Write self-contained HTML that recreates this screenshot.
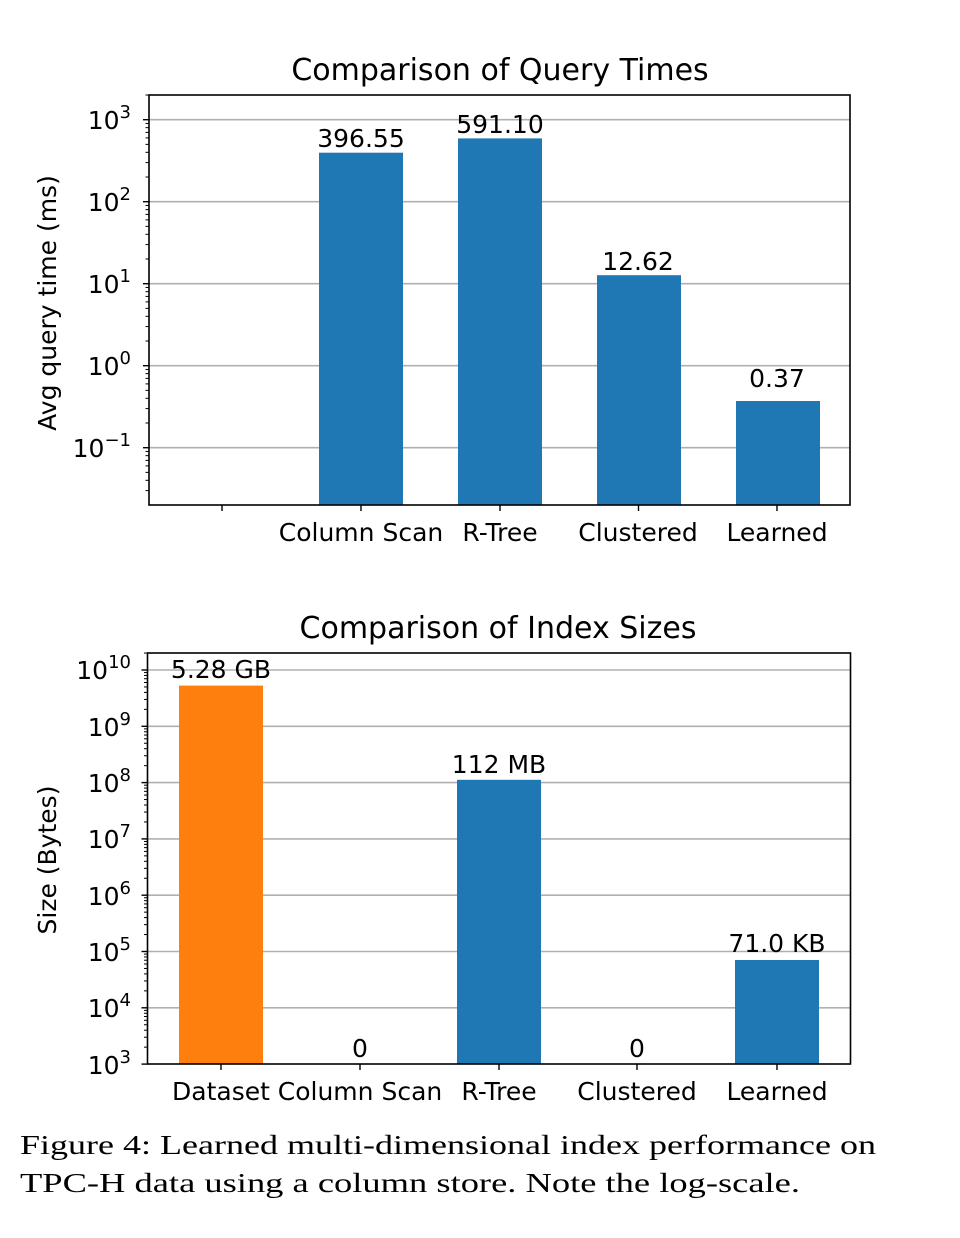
<!DOCTYPE html>
<html><head><meta charset="utf-8"><style>
html,body{margin:0;padding:0;background:#fff;}
svg{display:block;}
text{font-family:"DejaVu Sans","Liberation Sans",sans-serif;fill:#000;}
.cap{font-family:"Liberation Serif",serif;font-size:27px;}
</style></head><body>
<svg id="s" width="960" height="1238" viewBox="0 0 960 1238" xmlns="http://www.w3.org/2000/svg">
<g id="grid"></g>
<rect x="319" y="152.7" width="84" height="352.3" fill="#1f77b4"/>
<rect x="458" y="138.4" width="84" height="366.6" fill="#1f77b4"/>
<rect x="597" y="275.2" width="84" height="229.8" fill="#1f77b4"/>
<rect x="736" y="401" width="84" height="104" fill="#1f77b4"/>
<rect x="179" y="685.6" width="84" height="378.4" fill="#ff7f0e"/>
<rect x="457" y="779.8" width="84" height="284.2" fill="#1f77b4"/>
<rect x="735" y="960" width="84" height="104" fill="#1f77b4"/>
<g id="ticks"></g>
<rect x="149" y="95" width="701" height="410" fill="none" stroke="#000" stroke-width="1.6"/>
<rect x="147.5" y="653" width="703" height="411" fill="none" stroke="#000" stroke-width="1.6"/>

<text x="500" y="80" font-size="30" text-anchor="middle">Comparison of Query Times</text>
<text x="498" y="638" font-size="30" text-anchor="middle">Comparison of Index Sizes</text>

<g font-size="25" text-anchor="middle">
<text x="361" y="147">396.55</text>
<text x="500" y="133">591.10</text>
<text x="638" y="270">12.62</text>
<text x="777" y="387">0.37</text>
<text x="221" y="678">5.28 GB</text>
<text x="360" y="1057">0</text>
<text x="499" y="773">112 MB</text>
<text x="637" y="1057">0</text>
<text x="777" y="952">71.0 KB</text>
</g>
<g font-size="25" text-anchor="middle">
<text x="361" y="541">Column Scan</text>
<text x="500" y="541">R-Tree</text>
<text x="638" y="541">Clustered</text>
<text x="777" y="541">Learned</text>
<text x="221" y="1100">Dataset</text>
<text x="360" y="1100">Column Scan</text>
<text x="499" y="1100">R-Tree</text>
<text x="637" y="1100">Clustered</text>
<text x="777" y="1100">Learned</text>
</g>
<g font-size="25" text-anchor="end">
<text x="131" y="129">10<tspan font-size="18" dy="-11">3</tspan></text>
<text x="131" y="211">10<tspan font-size="18" dy="-11">2</tspan></text>
<text x="131" y="293">10<tspan font-size="18" dy="-11">1</tspan></text>
<text x="131" y="375">10<tspan font-size="18" dy="-11">0</tspan></text>
<text x="131" y="457">10<tspan font-size="18" dy="-11">−1</tspan></text>
<text x="131" y="679">10<tspan font-size="18" dy="-11">10</tspan></text>
<text x="131" y="736">10<tspan font-size="18" dy="-11">9</tspan></text>
<text x="131" y="792">10<tspan font-size="18" dy="-11">8</tspan></text>
<text x="131" y="848">10<tspan font-size="18" dy="-11">7</tspan></text>
<text x="131" y="905">10<tspan font-size="18" dy="-11">6</tspan></text>
<text x="131" y="961">10<tspan font-size="18" dy="-11">5</tspan></text>
<text x="131" y="1017">10<tspan font-size="18" dy="-11">4</tspan></text>
<text x="131" y="1074">10<tspan font-size="18" dy="-11">3</tspan></text>
</g>
<text transform="translate(56,303) rotate(-90)" font-size="25" text-anchor="middle">Avg query time (ms)</text>
<text transform="translate(56,860) rotate(-90)" font-size="25" text-anchor="middle">Size (Bytes)</text>

<text class="cap" x="20" y="1154" textLength="856" lengthAdjust="spacingAndGlyphs">Figure 4: Learned multi-dimensional index performance on</text>
<text class="cap" x="20" y="1192" textLength="780" lengthAdjust="spacingAndGlyphs">TPC-H data using a column store. Note the log-scale.</text>
</svg>
<script>
var NS="http://www.w3.org/2000/svg";
var grid=document.getElementById("grid"),ticks=document.getElementById("ticks");
function ln(p,x1,y1,x2,y2,c,w){var l=document.createElementNS(NS,"line");l.setAttribute("x1",x1);l.setAttribute("y1",y1);l.setAttribute("x2",x2);l.setAttribute("y2",y2);l.setAttribute("stroke",c);l.setAttribute("stroke-width",w);p.appendChild(l);}
function axis(left,right,top,bottom,y0,dec,lo,hi){
 for(var e=lo;e<=hi+1;e++){
  var ym=y0+(hi-e)*dec;
  if(ym>=top-0.5&&ym<=bottom+0.5){
   if(ym<bottom-1)ln(grid,left,ym,right,ym,"#b0b0b0",1.6);
   ln(ticks,left-6,ym,left,ym,"#000",1.4);
  }
  for(var k=2;k<=9;k++){
   var y=ym-Math.log10(k)*dec;
   if(y>top&&y<bottom)ln(ticks,left-3.5,y,left,y,"#000",1);
  }
 }
}
axis(149,850,95,505,119.7,82,-3,3);
axis(147.5,850.5,653,1064,670,56.3,2,10);
[222,361,500,638.5,777].forEach(function(x){ln(ticks,x,505,x,511,"#000",1.4);});
[221,360,499,637,777].forEach(function(x){ln(ticks,x,1064,x,1070,"#000",1.4);});
</script>
</body></html>
